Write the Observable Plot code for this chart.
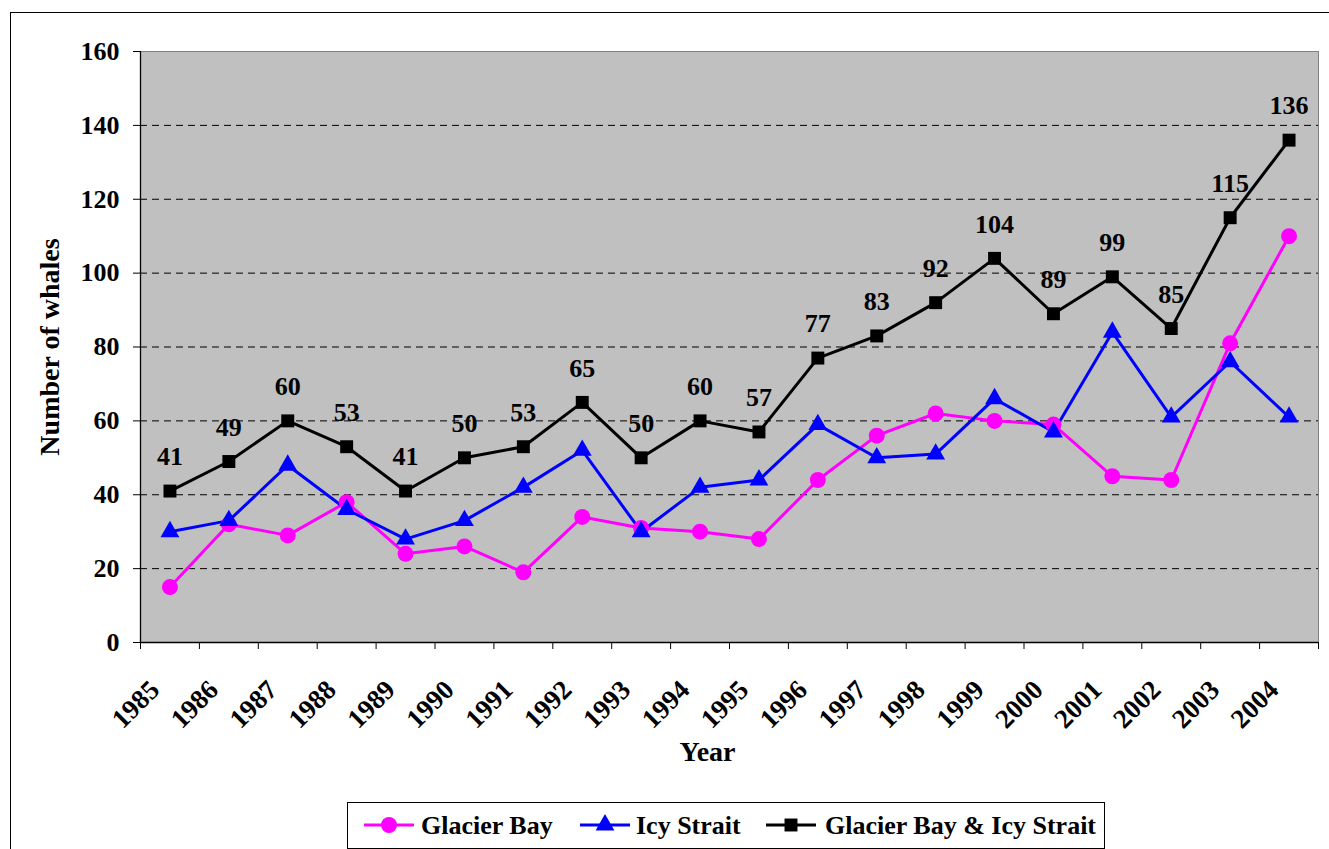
<!DOCTYPE html>
<html>
<head>
<meta charset="utf-8">
<script src="https://cdn.jsdelivr.net/npm/d3@7"></script>
<script src="https://cdn.jsdelivr.net/npm/@observablehq/plot@0.6"></script>
<style>
  body { margin: 0; background: #fff; }
  #wrap { position: relative; width: 1329px; height: 849px; overflow: hidden; background: #fff; }
  #border { position: absolute; left: 10px; top: 12px; width: 1340px; height: 860px; border: 1px solid #000; box-sizing: border-box; }
  #chart { position: absolute; left: 0; top: 0; }
  #legend { position: absolute; left: 347px; top: 802px; }
</style>
</head>
<body>
<div id="wrap">
  <div id="border"></div>
  <div id="chart"></div>
  <svg id="legend" width="760" height="48"></svg>
</div>
<script>
const years = [1985, 1986, 1987, 1988, 1989, 1990, 1991, 1992, 1993, 1994, 1995, 1996, 1997, 1998, 1999, 2000, 2001, 2002, 2003, 2004];
const yearLabels = ["1985", "1986", "1987", "1988", "1989", "1990", "1991", "1992", "1993", "1994", "1995", "1996", "1997", "1998", "1999", "2000", "2001", "2002", "2003", "2004"];
const glacierBay = [15, 32, 29, 38, 24, 26, 19, 34, 31, 30, 28, 44, 56, 62, 60, 59, 45, 44, 81, 110];
const icyStrait = [30, 33, 48, 36, 28, 33, 42, 52, 30, 42, 44, 59, 50, 51, 66, 57, 84, 61, 76, 61];
const combined = [41, 49, 60, 53, 41, 50, 53, 65, 50, 60, 57, 77, 83, 92, 104, 89, 99, 85, 115, 136];
const yTicks = [0, 20, 40, 60, 80, 100, 120, 140, 160];
const seriesNames = ["Glacier Bay", "Icy Strait", "Glacier Bay & Icy Strait"];
const seriesColors = ["#ff00ff", "#0000ff", "#000000"];
const yTitle = "Number of whales";
const xTitle = "Year";

const gbRows = years.map((y, i) => ({year: y, value: glacierBay[i]}));
const isRows = years.map((y, i) => ({year: y, value: icyStrait[i]}));
const cbRows = years.map((y, i) => ({year: y, value: combined[i]}));
const bounds = years.map(y => y - 0.5).concat([years[years.length - 1] + 0.5]);
const font = "'Liberation Serif', 'Times New Roman', serif";

const chart = Plot.plot({
  width: 1329,
  height: 800,
  marginLeft: 140,
  marginRight: 11,
  marginTop: 51,
  marginBottom: 158,
  style: {fontFamily: font, fontWeight: "bold", fontSize: "26px", background: "transparent", color: "#000"},
  x: {domain: [bounds[0], bounds[bounds.length - 1]]},
  y: {domain: [0, 160]},
  marks: [
    Plot.frame({fill: "#c0c0c0"}),
    Plot.ruleY(yTicks.filter(t => t > 0 && t < 160), {stroke: "#000", strokeDasharray: "7,5", strokeWidth: 1}),
    Plot.frame({stroke: "#808080"}),
    Plot.ruleX([bounds[0]], {stroke: "#000", strokeWidth: 1.3}),
    Plot.ruleY([0], {stroke: "#000", strokeWidth: 1.3}),
    Plot.axisY({ticks: yTicks, tickSize: 7, tickPadding: 14, label: null, fontSize: 26, stroke: "#000"}),
    Plot.axisX({ticks: bounds, tickSize: 7, tickFormat: () => "", label: null, stroke: "#000"}),
    Plot.text(years, {x: d => d, text: (d, i) => yearLabels[i], frameAnchor: "bottom", rotate: -45, textAnchor: "end", lineAnchor: "bottom", dx: -9, dy: 49, fontSize: 27}),
    Plot.line(gbRows, {x: "year", y: "value", stroke: seriesColors[0], strokeWidth: 3}),
    Plot.line(isRows, {x: "year", y: "value", stroke: seriesColors[1], strokeWidth: 3}),
    Plot.line(cbRows, {x: "year", y: "value", stroke: seriesColors[2], strokeWidth: 3}),
    Plot.dot(gbRows, {x: "year", y: "value", fill: seriesColors[0], r: 8, symbol: "circle"}),
    Plot.dot(isRows, {x: "year", y: "value", fill: seriesColors[1], r: 7, symbol: "triangle"}),
    Plot.dot(cbRows, {x: "year", y: "value", fill: seriesColors[2], r: 7.3, symbol: "square"}),
    Plot.text(cbRows, {x: "year", y: "value", text: d => String(d.value), dy: -34, fontSize: 26}),
    Plot.text([yTitle], {text: d => d, frameAnchor: "left", textAnchor: "middle", dx: -90, rotate: -90, fontSize: 28}),
    Plot.text([xTitle], {text: d => d, frameAnchor: "bottom", textAnchor: "middle", dx: -22, dy: 118, fontSize: 28})
  ]
});
document.getElementById("chart").appendChild(chart);

// Legend
const lg = d3.select("#legend");
lg.append("rect").attr("x", 0.5).attr("y", 0.5).attr("width", 757).attr("height", 46)
  .attr("fill", "#fff").attr("stroke", "#000");
const items = [
  {lx: 17, tx: 74},
  {lx: 233, tx: 289},
  {lx: 419, tx: 478}
];
const symbols = [d3.symbolCircle, d3.symbolTriangle, d3.symbolSquare];
const sizes = [Math.PI * 64, Math.PI * 49, Math.PI * 7.3 * 7.3];
items.forEach((it, i) => {
  const cy = 23;
  lg.append("line").attr("x1", it.lx).attr("x2", it.lx + 50).attr("y1", cy).attr("y2", cy)
    .attr("stroke", seriesColors[i]).attr("stroke-width", 3);
  lg.append("path").attr("d", d3.symbol(symbols[i], sizes[i])())
    .attr("transform", `translate(${it.lx + 25},${cy})`).attr("fill", seriesColors[i]);
  lg.append("text").attr("x", it.tx).attr("y", cy + 9).text(seriesNames[i])
    .attr("font-family", font).attr("font-weight", "bold").attr("font-size", 26).attr("fill", "#000");
});
</script>
</body>
</html>
